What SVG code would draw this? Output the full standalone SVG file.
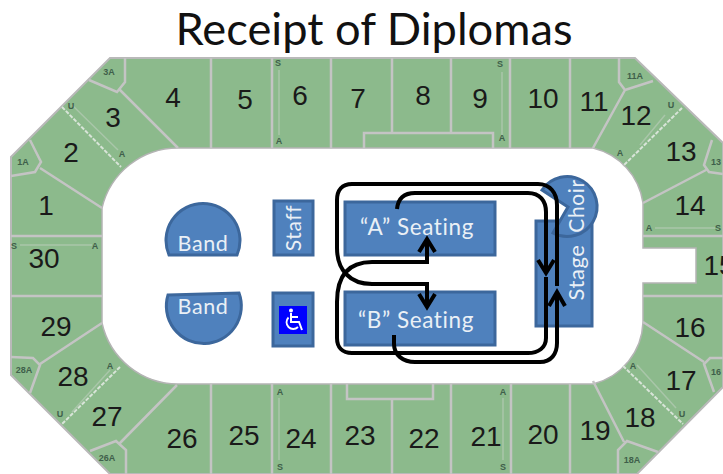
<svg xmlns="http://www.w3.org/2000/svg" width="723" height="474" viewBox="0 0 723 474">
<defs>
<style>
.sec{fill:#8cba8c;stroke:#b9b9b9;stroke-width:2}
.hole{fill:#fff;stroke:#b4b4b4;stroke-width:1.5}
.l{fill:none;stroke:#c4c4c4;stroke-width:2.5}
.d{fill:none;stroke:#d8e4d8;stroke-width:2;stroke-dasharray:4 1.5}
.f{fill:none;stroke:#a9c6a9;stroke-width:1.5}
.n{font-family:"Liberation Sans",Arial,sans-serif;font-size:28px;fill:#1a1a1a;text-anchor:middle}
.s{font-family:"Liberation Sans",Arial,sans-serif;font-size:9px;font-weight:bold;fill:#3f5f4a;text-anchor:middle}
.b{fill:#4f81bd;stroke:#3c679c;stroke-width:3}
.t{font-family:Lato,"Noto Sans",sans-serif;fill:#eaf0f6;text-anchor:middle;letter-spacing:.6px}
.c{fill:none;stroke:#000;stroke-width:4}
</style>
</defs>
<rect width="723" height="474" fill="#fff"/>
<text x="374" y="45" font-family="Lato,'Noto Sans',sans-serif" font-size="45" text-anchor="middle" fill="#111" textLength="397" lengthAdjust="spacingAndGlyphs">Receipt of Diplomas</text>
<g id="arena">
<path class="sec" d="M110,58H635L723,143V387L637,474H110L11,375V157Z"/>
<path class="hole" d="M178,148H593A66,66 0 0 1 643,203V248H696V283H643V322A66,66 0 0 1 593,384H178A78,78 0 0 1 102,323V208A78,78 0 0 1 178,148Z"/>
<path class="l" d="M125,58V82L117,92L89,80M120,90L178,148M211,58V148M272,58V148M331,58V148M392,58V133M451,58V133M364,148V133H493V148M510,58V148M570,58V148M619,58V82L625,90L653,81M625,90L593,148M712,140L704,165L709,172L723,174M706,170L643,203M643,236H723M643,296H723M643,322L704,362M723,358H710L704,364L714,392M593,381L624,442M658,452L627,441L618,450V474M570,384V474M511,384V474M451,384V474M392,399V474M347,384V399H433V384M331,384V474M272,384V474M211,384V474M177,385L120,443M90,451L116,441L126,450V474M102,323L40,364M11,357L33,358L40,365L30,393M11,296H102M11,236H102M40,168L102,208M30,140L41,162L35,172L11,176"/>
<path class="d" d="M62,107L121,167M682,108L623,166M120,367L62,424M623,366L683,424"/>
<path class="f" d="M72,105L118,150M20,245H92M279,70V135M502,72V135M665,115L640,145M655,228H715M279,398V460M503,398V460M637,365L676,408M110,370L72,412"/>
</g>
<g id="section-labels">
<text class="n" x="173" y="107">4</text><text class="n" x="245" y="109">5</text><text class="n" x="300" y="105">6</text><text class="n" x="358" y="108">7</text><text class="n" x="423" y="105">8</text><text class="n" x="480" y="108">9</text><text class="n" x="543" y="108">10</text><text class="n" x="594" y="111">11</text><text class="n" x="636" y="125">12</text><text class="n" x="681" y="161">13</text><text class="n" x="690" y="215">14</text><text class="n" x="719" y="275">15</text><text class="n" x="690" y="337">16</text><text class="n" x="681" y="390">17</text><text class="n" x="640" y="427">18</text><text class="n" x="595" y="440">19</text><text class="n" x="543" y="444">20</text><text class="n" x="486" y="446">21</text><text class="n" x="424" y="448">22</text><text class="n" x="360" y="445">23</text><text class="n" x="301" y="448">24</text><text class="n" x="244" y="445">25</text><text class="n" x="182" y="448">26</text><text class="n" x="107" y="426">27</text><text class="n" x="73" y="386">28</text><text class="n" x="56" y="336">29</text><text class="n" x="44" y="268">30</text><text class="n" x="46" y="215">1</text><text class="n" x="71" y="162">2</text><text class="n" x="113" y="127">3</text>
<text class="s" x="109" y="75">3A</text><text class="s" x="71" y="109">U</text><text class="s" x="122" y="157">A</text><text class="s" x="23" y="165">1A</text><text class="s" x="14" y="249">S</text><text class="s" x="95" y="249">A</text><text class="s" x="278" y="66">S</text><text class="s" x="279" y="144">A</text><text class="s" x="500" y="67">S</text><text class="s" x="502" y="141">A</text><text class="s" x="635" y="79">11A</text><text class="s" x="671" y="108">U</text><text class="s" x="620" y="156">A</text><text class="s" x="716" y="165">13</text><text class="s" x="649" y="231">A</text><text class="s" x="718" y="231">S</text><text class="s" x="716" y="375">16</text><text class="s" x="24" y="373">28A</text><text class="s" x="60" y="417">U</text><text class="s" x="110" y="369">A</text><text class="s" x="107" y="461">26A</text><text class="s" x="280" y="395">A</text><text class="s" x="280" y="470">S</text><text class="s" x="503" y="395">A</text><text class="s" x="503" y="470">S</text><text class="s" x="633" y="369">A</text><text class="s" x="682" y="417">U</text><text class="s" x="632" y="463">18A</text>
</g>
<g id="band-top"><path class="b" d="M169,255A37,37 0 1 1 237,255Z"/><text class="t" x="203" y="251" font-size="21.500">Band</text></g>
<g id="band-bottom"><path class="b" d="M168,295L239,293A37.500,37.500 0 1 1 168,295Z"/><text class="t" x="203" y="314" font-size="21.500">Band</text></g>
<g id="staff"><rect class="b" x="274" y="201" width="39" height="54"/><text class="t" transform="translate(301,228) rotate(-90)" font-size="21">Staff</text></g>
<g id="accessible"><rect class="b" x="273" y="293" width="40" height="53"/><rect x="279" y="306" width="28" height="28" fill="#0000ff"/><circle cx="291" cy="310.500" r="2" fill="#fff"/><path d="M291,313V322H299L302,330M291,317H298" fill="none" stroke="#fff" stroke-width="2"/><path d="M288.500,317.500A6.500,6.500 0 1 0 298,327" fill="none" stroke="#fff" stroke-width="1.800"/></g>
<g id="seating-a"><rect class="b" x="345" y="202" width="150" height="53"/><text class="t" x="417" y="235" font-size="22.500">“A” Seating</text></g>
<g id="seating-b"><rect class="b" x="345" y="292" width="150" height="53"/><text class="t" x="416" y="328" font-size="22.500">“B” Seating</text></g>
<g id="stage"><rect class="b" x="536" y="221" width="56" height="105"/><text class="t" transform="translate(584,272.500) rotate(-90)" font-size="22">Stage</text></g>
<g id="choir"><path class="b" d="M568,207L542,190A30,30 0 1 1 553,233Z"/><text class="t" transform="translate(584,206) rotate(-90)" font-size="21">Choir</text></g>
<g id="connectors">
<path class="c" d="M397,209C398,199 403,193 415,193H528C540,193 546,201 546,212V273"/>
<path class="c" d="M538,260L546,273L554,260"/>
<path class="c" d="M546,277V338C546,348 538,353 528,353H352C342,353 337,347 337,338V302C337,274 350,262 372,262H427V240"/>
<path class="c" d="M419,252L427,239L435,252"/>
<path class="c" d="M394,335V344C394,355 403,362 415,362H540C551,362 557,354 557,343V292"/>
<path class="c" d="M549,306L557,292L565,306"/>
<path class="c" d="M557,286V205C557,193 550,184 538,184H352C342,184 337,190 337,200V248C337,270 350,284 372,284H427V306"/>
<path class="c" d="M419,294L427,307L435,294"/>
</g>
</svg>
